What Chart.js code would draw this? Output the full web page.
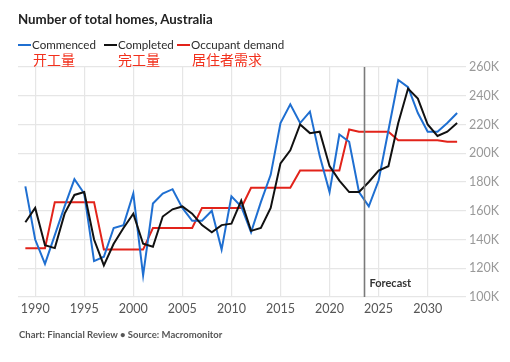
<!DOCTYPE html>
<html>
<head>
<meta charset="utf-8">
<script src="https://cdn.jsdelivr.net/npm/chart.js@4"></script>
<style>
    html, body { margin: 0; padding: 0; background: #fff; }
    body { width: 510px; height: 362px; position: relative; overflow: hidden; font-family: Lato, "Open Sans", sans-serif; }
    #chart-wrap { position: absolute; left: 0; top: 0; width: 510px; height: 362px; }
    .title { position: absolute; left: 18px; top: 11px; font-size: 13.3px; font-weight: bold; color: #222; white-space: nowrap; }
    .legend-item { position: absolute; top: 38px; font-size: 11.6px; color: #2a2a2a; white-space: nowrap; }
    .legend-item .swatch { display: inline-block; width: 13px; height: 2px; vertical-align: middle; margin-right: 1px; position: relative; top: -1px; }
    .zh { position: absolute; top: 49px; font-size: 14px; color: #f2301c; font-family: "Noto Sans CJK SC", sans-serif; white-space: nowrap; }
    .footer { position: absolute; left: 19px; top: 329px; font-size: 9.5px; font-weight: bold; color: #555; white-space: nowrap; }
</style>
</head>
<body>
<div id="chart-wrap"><canvas id="homes-chart" width="510" height="362"></canvas></div>
<div class="title">Number of total homes, Australia</div>
<div class="legend-item" style="left:18px"><span class="swatch" style="background:#1f6fd1"></span>Commenced</div>
<div class="legend-item" style="left:104px"><span class="swatch" style="background:#111"></span>Completed</div>
<div class="legend-item" style="left:177px"><span class="swatch" style="background:#e2231a"></span>Occupant demand</div>
<div class="zh" style="left:33px">开工量</div>
<div class="zh" style="left:118px">完工量</div>
<div class="zh" style="left:192px">居住者需求</div>
<div class="footer">Chart: Financial Review • Source: Macromonitor</div>

<script>
// values in thousands of homes
const years = [1989, 1990, 1991, 1992, 1993, 1994, 1995, 1996, 1997, 1998, 1999,
    2000, 2001, 2002, 2003, 2004, 2005, 2006, 2007, 2008, 2009,
    2010, 2011, 2012, 2013, 2014, 2015, 2016, 2017, 2018, 2019,
    2020, 2021, 2022, 2023, 2024, 2025, 2026, 2027, 2028, 2029,
    2030, 2031, 2032, 2033];

const commenced = [177, 140, 123, 143, 163, 182, 172, 125, 128, 148, 150,
    172, 115, 165, 172, 175, 162, 153, 153, 160, 133,
    170, 163, 145, 166, 185, 221, 234, 221, 229, 198,
    173, 213, 208, 173, 163, 181, 216, 251, 246, 228,
    215, 215, 221, 228];

const completed = [152, 162, 136, 134, 158, 171, 173, 140, 122, 137, 148,
    158, 137, 135, 156, 161, 163, 158, 150, 145, 150,
    151, 167, 146, 148, 162, 193, 202, 220, 214, 215,
    191, 181, 173, 173, 180, 188, 191, 221, 245, 238,
    220, 212, 215, 221];

const occupantDemand = [134, 134, 134, 166, 166, 166, 166, 166, 133, 133, 133,
    133, 133, 148, 148, 148, 148, 148, 162, 162, 162,
    162, 162, 176, 176, 176, 176, 176, 188, 188, 188,
    188, 188, 216.5, 215, 215, 215, 215, 209, 209, 209,
    209, 209, 208, 208];

const xTicks = [1990, 1995, 2000, 2005, 2010, 2015, 2020, 2025, 2030];
const yTicks = [100, 120, 140, 160, 180, 200, 220, 240, 260];
const forecastStart = 2023.55;

function toPoints(values) {
    return years.map((yr, i) => ({ x: yr, y: values[i] }));
}

const forecastLine = {
    id: 'forecastLine',
    afterDatasetsDraw(chart) {
        const { ctx, chartArea, scales } = chart;
        const x = Math.round(scales.x.getPixelForValue(forecastStart)) + 0.5;
        ctx.save();
        ctx.strokeStyle = '#7a7a7a';
        ctx.lineWidth = 1.6;
        ctx.beginPath();
        ctx.moveTo(x, chartArea.top);
        ctx.lineTo(x, chartArea.bottom);
        ctx.stroke();
        ctx.fillStyle = '#333';
        ctx.font = 'bold 11px Lato, "Open Sans", sans-serif';
        ctx.textBaseline = 'middle';
        ctx.fillText('Forecast', x + 5, chartArea.bottom - 14);
        ctx.restore();
    }
};

const gridColor = '#e6e6e6';

let chart = new Chart(document.getElementById('homes-chart'), {
    type: 'line',
    data: {
        datasets: [
            { label: 'Completed', data: toPoints(completed), borderColor: '#111', order: 0 },
            { label: 'Commenced', data: toPoints(commenced), borderColor: '#1f6fd1', order: 1 },
            { label: 'Occupant demand', data: toPoints(occupantDemand), borderColor: '#e2231a', order: 2 }
        ]
    },
    options: {
        responsive: false,
        animation: false,
        layout: { padding: { top: 67, left: 18, right: 0, bottom: 0 } },
        elements: {
            line: { borderWidth: 2, tension: 0 },
            point: { radius: 0 }
        },
        plugins: {
            legend: { display: false },
            tooltip: { enabled: false }
        },
        scales: {
            x: {
                type: 'linear',
                min: 1988.25,
                max: 2033.6,
                afterBuildTicks: (scale) => { scale.ticks = xTicks.map(v => ({ value: v })); },
                afterFit: (scale) => { scale.height = 65; },
                grid: { color: gridColor, lineWidth: 1.2, drawTicks: false },
                border: { display: false },
                ticks: {
                    padding: 4,
                    color: '#555',
                    font: { family: 'Lato, "Open Sans", sans-serif', size: 12.5 },
                    callback: (v) => String(v)
                }
            },
            y: {
                position: 'right',
                min: 100,
                max: 260,
                afterBuildTicks: (scale) => { scale.ticks = yTicks.map(v => ({ value: v })); },
                afterFit: (scale) => { scale.width = 47; },
                grid: { color: gridColor, lineWidth: 1.2, drawTicks: true, tickLength: 3 },
                border: { display: false },
                ticks: {
                    padding: 3,
                    color: '#999',
                    font: { family: 'Lato, "Open Sans", sans-serif', size: 12.5 },
                    callback: (v) => v + 'K'
                }
            }
        }
    },
    plugins: [forecastLine]
});
</script>
</body>
</html>
